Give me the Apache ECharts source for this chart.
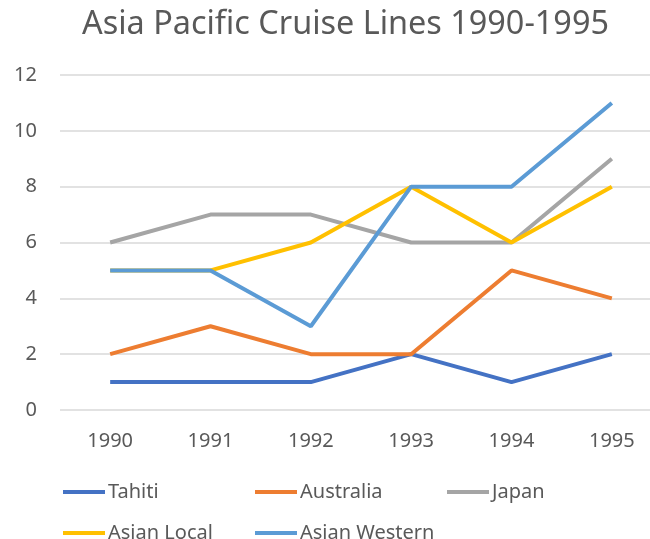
<!DOCTYPE html>
<html>
<head>
<meta charset="utf-8">
<script src="https://cdn.jsdelivr.net/npm/echarts@6/dist/echarts.min.js"></script>
<style>
  html, body { margin: 0; padding: 0; background: #fff; }
  #chart { width: 650px; height: 539px; }
</style>
</head>
<body>
<div id="chart"></div>
<script>
const years = ['1990', '1991', '1992', '1993', '1994', '1995'];
const tahiti = [1, 1, 1, 2, 1, 2];
const australia = [2, 3, 2, 2, 5, 4];
const japan = [6, 7, 7, 6, 6, 9];
const asianLocal = [5, 5, 6, 8, 6, 8];
const asianWestern = [5, 5, 3, 8, 8, 11];

const names = ['Tahiti', 'Australia', 'Japan', 'Asian Local', 'Asian Western'];
const values = [tahiti, australia, japan, asianLocal, asianWestern];
const colors = ['#4472C4', '#ED7D31', '#A5A5A5', '#FFC000', '#5B9BD5'];

// legend slots: 3 columns, 2 rows
const legendPos = [[58, 477], [250, 477], [442, 477], [58, 518], [250, 518]];

const font = 'Noto Sans';
const chart = echarts.init(document.getElementById('chart'));
chart.setOption({
    animation: false,
    color: colors,
    title: {
        text: 'Asia Pacific Cruise Lines 1990-1995',
        left: 77, top: 4,
        textStyle: { fontFamily: font, fontSize: 32.4, fontWeight: 'normal', color: '#595959' }
    },
    legend: names.map((n, i) => ({
        data: [n],
        left: legendPos[i][0], top: legendPos[i][1],
        itemWidth: 42, itemHeight: 4, itemGap: 0,
        icon: 'rect',
        textStyle: { fontFamily: font, fontSize: 20, color: '#595959', padding: [0, 0, 0, -2] }
    })),
    grid: { left: 60, width: 602, top: 75, height: 335, outerBoundsMode: 'none' },
    xAxis: {
        type: 'category', data: years, boundaryGap: true,
        axisLine: { show: false }, axisTick: { show: false },
        axisLabel: { fontFamily: font, fontSize: 20, color: '#595959', margin: 21 }
    },
    yAxis: {
        type: 'value', min: 0, max: 12, interval: 2,
        axisLine: { show: false }, axisTick: { show: false },
        axisLabel: { fontFamily: font, fontSize: 20, color: '#595959', margin: 23 },
        splitLine: { lineStyle: { color: '#D9D9D9', width: 1.5 } }
    },
    series: names.map((n, i) => ({
        name: n, type: 'line', data: values[i],
        showSymbol: false, symbol: 'none',
        lineStyle: { width: 4, color: colors[i] }
    }))
});
</script>
</body>
</html>
